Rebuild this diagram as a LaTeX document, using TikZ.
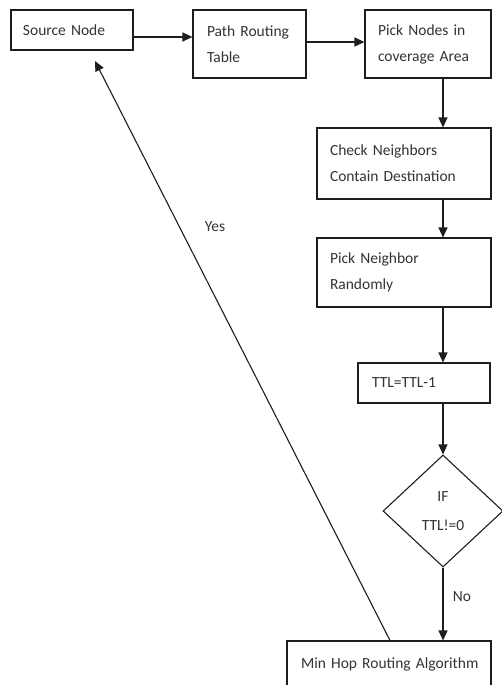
\documentclass[tikz,border=0pt]{standalone}
\usepackage{fontspec}
\setmainfont{Carlito}
\usetikzlibrary{arrows.meta,shapes.geometric}
\definecolor{inkc}{HTML}{1E1E1E}
\definecolor{txtc}{HTML}{333333}
\tikzset{
  flowbox/.style n args={3}{draw=inkc, line width=1.1pt, rectangle, inner ysep=0pt,
     inner xsep=#3, minimum width=#1, minimum height=#2,
     text width=#1-2*#3, align=left, text=txtc,
     font=\fontsize{15.5}{26}\selectfont},
  decision/.style={draw=inkc, line width=1.1pt, diamond, inner sep=0pt,
     minimum width=120pt, minimum height=112pt, align=center, text=txtc,
     font=\fontsize{15.5}{29}\selectfont},
  arr/.style={draw=inkc, line width=1.1pt, -{Triangle[length=10pt,width=9pt]}},
  lbl/.style={text=txtc, font=\fontsize{15.5}{18}\selectfont, inner sep=0pt}
}
\begin{document}
\begin{tikzpicture}[x=1pt,y=-1pt]
\clip (0,0) rectangle (502,685);
\fill[white] (0,0) rectangle (502,685);

\node[flowbox={122pt}{40pt}{12pt}] (source) at (72,30) {Source Node};
\node[flowbox={113pt}{68pt}{14pt}] (path) at (249.5,44) {Path Routing\\Table};
\node[flowbox={126pt}{68pt}{13pt}] (picknodes) at (428,44) {Pick Nodes in\\coverage Area};
\node[flowbox={174pt}{71pt}{13pt}] (check) at (404,163.5) {Check Neighbors\\Contain Destination};
\node[flowbox={174pt}{69pt}{13pt}] (pickn) at (404,272.5) {Pick Neighbor\\Randomly};
\node[flowbox={132pt}{40pt}{14pt}] (ttl) at (424,383) {TTL=TTL-1};
\node[decision] (if) at (443,511) {IF\\TTL!=0};
\node[flowbox={204pt}{47pt}{14pt}] (minhop) at (389,664.5) {\mbox{Min Hop Routing Algorithm}};

\coordinate (yA) at (0,37);
\coordinate (yB) at (0,42);
\coordinate (col) at (443,0);
\coordinate (yesx) at (390,0);
\coordinate (yesend) at (95,61);

\draw[arr] (source.east |- yA) -- (path.west |- yA);
\draw[arr] (path.east |- yB) -- (picknodes.west |- yB);
\draw[arr] (picknodes.south -| col) -- (check.north -| col);
\draw[arr] (check.south -| col) -- (pickn.north -| col);
\draw[arr] (pickn.south -| col) -- (ttl.north -| col);
\draw[arr] (ttl.south -| col) -- (if.north);
\draw[arr] (if.south) -- (minhop.north -| col);
\draw[arr] (minhop.north -| yesx) -- (yesend);

\node[lbl] (yes) at (215,227) {Yes};
\node[lbl] (no) at (462,597) {No};
\end{tikzpicture}
\end{document}
